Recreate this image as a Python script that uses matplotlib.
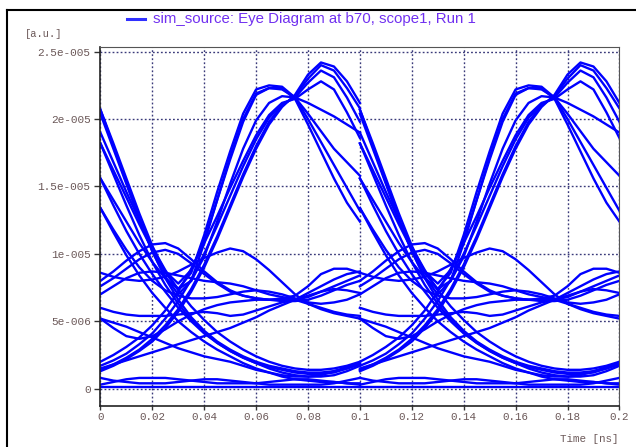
import matplotlib
matplotlib.use("Agg")
import matplotlib.pyplot as plt
from matplotlib.lines import Line2D
import numpy as np

# one unit interval (0.1 ns), sampled every 5 ps
ui_time = [0.0, 0.005, 0.01, 0.015, 0.02, 0.025, 0.03, 0.035, 0.04, 0.045, 0.05,
           0.055, 0.06, 0.065, 0.07, 0.075, 0.08, 0.085, 0.09, 0.095, 0.1]
ui_offsets = [0.0, 0.1]

# traces in 1e-6 a.u.
hi_b1 = [1.4, 1.8, 2.3, 2.9, 3.7, 4.7, 5.9, 7.4, 9.2, 11.3, 13.6, 15.9, 18.0, 19.8, 21.0, 21.7, 23.0, 24.0, 23.6, 22.3, 20.8]
hi_b2 = [1.7, 2.1, 2.6, 3.3, 4.1, 5.2, 6.5, 8.1, 10.0, 12.1, 14.3, 16.5, 18.5, 20.1, 21.1, 21.6, 22.7, 23.6, 23.1, 21.6, 19.8]
hi_b3 = [2.0, 2.5, 3.1, 3.8, 4.7, 5.8, 7.2, 8.9, 10.8, 12.8, 14.9, 16.9, 18.8, 20.3, 21.2, 21.5, 22.2, 22.8, 22.2, 20.5, 18.6]
hi_b4 = [1.3, 1.7, 2.2, 2.8, 3.5, 4.5, 5.7, 7.2, 9.0, 11.1, 13.4, 15.7, 17.8, 19.6, 20.9, 21.8, 23.3, 24.2, 23.9, 22.8, 21.2]
hi_a1 = [20.7, 18.2, 15.6, 13.0, 10.6, 8.6, 7.4, 8.6, 11.4, 14.6, 17.6, 20.4, 22.2, 22.5, 22.4, 21.6, 20.0, 18.3, 16.6, 14.9, 13.2]
hi_a2 = [18.2, 16.2, 14.2, 12.2, 10.3, 8.7, 7.8, 8.8, 11.0, 14.0, 17.0, 19.8, 21.8, 22.3, 22.2, 21.6, 20.4, 19.1, 17.8, 16.8, 15.8]
hi_a3 = [15.6, 14.0, 12.4, 10.8, 9.4, 8.2, 7.4, 8.0, 9.8, 12.4, 15.2, 17.8, 19.9, 21.2, 21.7, 21.6, 21.2, 20.7, 20.2, 19.6, 19.0]
hi_a4 = [20.4, 17.8, 15.2, 12.6, 10.2, 8.3, 7.0, 8.0, 10.8, 14.0, 17.2, 20.0, 21.9, 22.3, 22.3, 21.5, 19.6, 17.6, 15.6, 13.8, 12.4]
lo_f1 = [20.7, 18.0, 15.3, 12.6, 10.2, 8.2, 6.6, 5.3, 4.3, 3.5, 2.9, 2.4, 2.0, 1.7, 1.5, 1.3, 1.2, 1.2, 1.3, 1.5, 1.8]
lo_f2 = [15.6, 13.6, 11.7, 10.0, 8.5, 7.2, 6.0, 5.0, 4.1, 3.4, 2.8, 2.3, 1.9, 1.5, 1.2, 1.0, 0.9, 0.9, 1.0, 1.3, 1.7]
lo_f3 = [13.4, 11.6, 9.9, 8.4, 7.1, 6.0, 5.0, 4.2, 3.5, 2.9, 2.4, 1.9, 1.5, 1.2, 0.9, 0.7, 0.6, 0.5, 0.5, 0.4, 0.4]
lo_f4 = [18.2, 15.9, 13.6, 11.4, 9.4, 7.7, 6.3, 5.1, 4.2, 3.4, 2.8, 2.3, 1.9, 1.6, 1.4, 1.2, 1.1, 1.1, 1.2, 1.5, 1.9]
lo_f5 = [19.0, 16.8, 14.6, 12.5, 10.5, 8.8, 7.3, 6.1, 5.1, 4.2, 3.5, 2.9, 2.4, 2.0, 1.7, 1.5, 1.4, 1.4, 1.5, 1.7, 2.0]
mid_s1 = [1.5, 1.8, 2.1, 2.4, 2.7, 3.0, 3.3, 3.6, 3.9, 4.2, 4.5, 4.9, 5.3, 5.8, 6.2, 6.6, 7.1, 7.6, 8.1, 8.5, 8.7]
mid_d1 = [5.2, 4.9, 4.6, 4.2, 3.8, 3.4, 3.0, 2.7, 2.4, 2.2, 2.0, 1.7, 1.4, 1.2, 1.0, 0.9, 0.9, 1.0, 1.3, 1.6, 1.9]
mid_h1 = [8.0, 8.7, 9.5, 10.2, 10.7, 10.8, 10.4, 9.6, 8.7, 7.9, 7.3, 6.9, 6.7, 6.6, 6.6, 6.6, 6.8, 7.2, 7.6, 8.0, 8.4]
mid_h4 = [7.6, 8.2, 8.9, 9.6, 10.1, 10.3, 10.0, 9.3, 8.5, 7.8, 7.2, 6.9, 6.7, 6.6, 6.5, 6.5, 6.6, 6.9, 7.3, 7.7, 8.0]
mid_h2 = [8.6, 8.3, 8.1, 8.0, 8.1, 8.3, 8.7, 9.2, 9.7, 10.1, 10.4, 10.2, 9.6, 8.8, 7.9, 7.0, 6.3, 5.9, 5.6, 5.4, 5.2]
mid_h3 = [5.2, 4.5, 3.9, 3.7, 3.9, 4.4, 5.0, 5.5, 5.9, 6.2, 6.4, 6.5, 6.6, 6.6, 6.7, 6.9, 7.6, 8.5, 8.9, 8.9, 8.6]
mid_m1 = [7.0, 7.6, 8.2, 8.6, 8.7, 8.6, 8.4, 8.2, 8.0, 7.9, 7.8, 7.6, 7.3, 7.0, 6.8, 6.6, 6.3, 6.0, 5.7, 5.5, 5.4]
mid_m2 = [6.0, 5.7, 5.5, 5.4, 5.4, 5.4, 5.5, 5.6, 5.7, 5.6, 5.4, 5.5, 5.8, 6.1, 6.4, 6.6, 6.9, 7.2, 7.4, 7.3, 7.1]
mid_f1 = [13.4, 11.8, 10.3, 9.0, 8.0, 7.3, 6.9, 6.7, 6.7, 6.8, 7.0, 7.2, 7.3, 7.2, 7.0, 6.7, 6.4, 6.3, 6.4, 6.6, 7.0]
zero_1 = [0.1, 0.1, 0.1, 0.1, 0.1, 0.1, 0.1, 0.1, 0.1, 0.1, 0.1, 0.1, 0.1, 0.1, 0.1, 0.1, 0.1, 0.1, 0.1, 0.1, 0.1]
zero_2 = [0.3, 0.5, 0.7, 0.8, 0.8, 0.8, 0.7, 0.6, 0.5, 0.4, 0.4, 0.4, 0.4, 0.5, 0.6, 0.7, 0.7, 0.6, 0.5, 0.4, 0.3]
zero_3 = [0.8, 0.6, 0.5, 0.4, 0.4, 0.4, 0.5, 0.6, 0.7, 0.7, 0.6, 0.5, 0.4, 0.3, 0.3, 0.3, 0.3, 0.3, 0.4, 0.6, 0.8]

traces = [hi_b1, hi_b2, hi_b3, hi_b4, hi_a1, hi_a2, hi_a3, hi_a4,
          lo_f1, lo_f2, lo_f3, lo_f4, lo_f5,
          mid_s1, mid_d1, mid_h1, mid_h4, mid_h2, mid_h3, mid_m1, mid_m2, mid_f1,
          zero_1, zero_2, zero_3]

x_ticks = [0, 0.02, 0.04, 0.06, 0.08, 0.1, 0.12, 0.14, 0.16, 0.18, 0.2]
x_labels = ["0", "0.02", "0.04", "0.06", "0.08", "0.1", "0.12", "0.14", "0.16", "0.18", "0.2"]
y_ticks = [0, 5e-6, 1e-5, 1.5e-5, 2e-5, 2.5e-5]
y_labels = ["0", "5e-006", "1e-005", "1.5e-005", "2e-005", "2.5e-005"]

W, H = 636, 447
fig = plt.figure(figsize=(W / 100, H / 100), dpi=100)
ax = fig.add_axes([100.4 / W, 1 - 405.5 / H, 519.0 / W, (405.5 - 46.7) / H])

t = np.array(ui_time)
for off in ui_offsets:
    for tr in traces:
        ax.plot(t + off, np.array(tr) * 1e-6, color="#0000ff", lw=1.7, solid_joinstyle="round")

ax.set_xlim(0, 0.2)
ax.set_ylim(-1.246e-6, 2.537e-5)
ax.set_xticks(x_ticks)
ax.set_xticklabels(x_labels)
ax.set_yticks(y_ticks)
ax.set_yticklabels(y_labels)
ax.grid(True, color="#3a3a7a", lw=1.0, linestyle=(0, (1.3, 1.6)))
ax.set_axisbelow(True)

lab_color = "#6b5858"
for lab in ax.get_xticklabels():
    lab.set_fontfamily("Liberation Mono")
    lab.set_fontsize(7.8)
    lab.set_color(lab_color)
for lab in ax.get_yticklabels():
    lab.set_fontfamily("Liberation Mono")
    lab.set_fontsize(8)
    lab.set_color(lab_color)
ax.tick_params(axis="y", direction="out", length=4, width=1, color="#333333", pad=3)
ax.tick_params(axis="x", direction="out", length=3, width=1, color="#333333", pad=1.5)
for side in ["top", "right"]:
    ax.spines[side].set_color("#555555")
for side in ["left", "bottom"]:
    ax.spines[side].set_color("#222222")
    ax.spines[side].set_linewidth(1.2)

# outer frame (top and left edges visible)
fig.add_artist(Line2D([7 / W, 7 / W], [1 - 10 / H, 0], color="black", lw=1.5))
fig.add_artist(Line2D([7 / W, 1], [1 - 10 / H, 1 - 10 / H], color="black", lw=1.5))

# legend-style title
fig.add_artist(Line2D([127 / W, 145 / W], [1 - 19 / H, 1 - 19 / H], color="#3030ff", lw=2.2))
fig.text(153 / W, 1 - 19 / H, "sim_source: Eye Diagram at b70, scope1, Run 1",
         fontsize=10.8, family="Liberation Sans", color="#7030f0", va="center", ha="left")
fig.text(25 / W, 1 - 34 / H, "[a.u.]", fontsize=7.5, family="Liberation Mono",
         color=lab_color, va="center", ha="left")
fig.text(618 / W, 1 - 439 / H, "Time [ns]", fontsize=7.8, family="Liberation Mono",
         color=lab_color, va="center", ha="right")

fig.savefig("out.png", dpi=100)
